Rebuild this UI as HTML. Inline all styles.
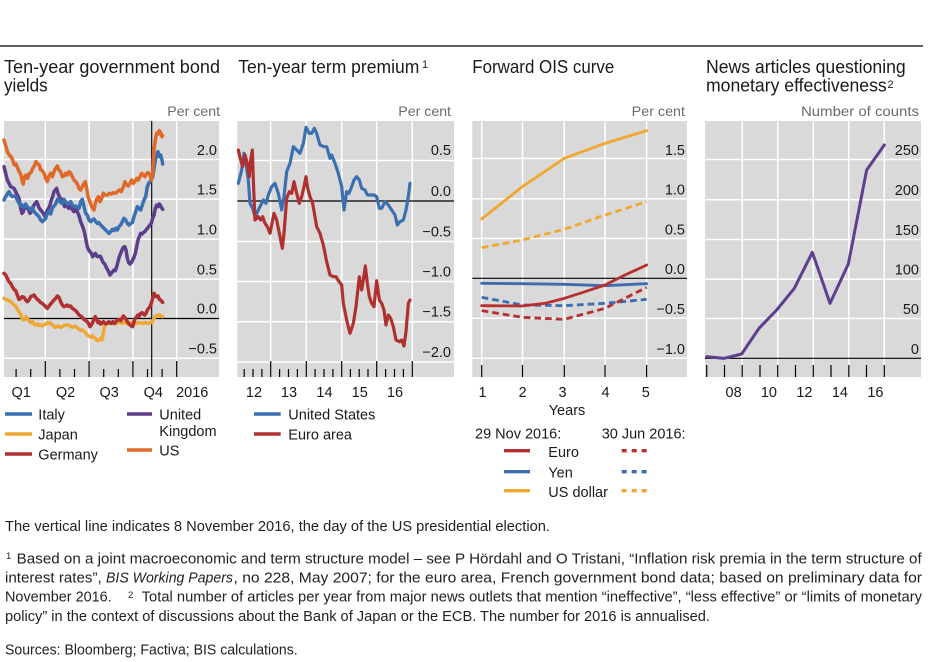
<!DOCTYPE html>
<html><head><meta charset="utf-8">
<style>
html,body{margin:0;padding:0;background:#fff;width:946px;height:662px;overflow:hidden}
svg{display:block}
text{font-family:"Liberation Sans",Arial,sans-serif;fill:#1a1a1a}
.t{font-size:18px}
.pc{font-size:14px;fill:#6b6b6b}
.tl{font-size:14.5px}
.lg{font-size:14.5px}
.fn{font-size:14.5px;fill:#222}
.g{stroke:#fff;stroke-width:1.5}
.z{stroke:#000;stroke-width:1.2}
.tk{stroke:#000;stroke-width:1.2}
.s{fill:none;stroke-linejoin:round;stroke-linecap:round}
</style></head><body>
<svg width="946" height="662" viewBox="0 0 946 662" xmlns="http://www.w3.org/2000/svg">
<line x1="0" y1="46" x2="923" y2="46" stroke="#000" stroke-width="1.3"/>

<!-- Titles -->
<text class="t" x="4" y="73" textLength="216" lengthAdjust="spacingAndGlyphs">Ten-year government bond</text>
<text class="t" x="4" y="91.5" textLength="43.7" lengthAdjust="spacingAndGlyphs">yields</text>
<text class="t" x="238.3" y="73" textLength="181" lengthAdjust="spacingAndGlyphs">Ten-year term premium</text>
<text x="422" y="68" style="font-size:11px">1</text>
<text class="t" x="472.3" y="73" textLength="142" lengthAdjust="spacingAndGlyphs">Forward OIS curve</text>
<text class="t" x="706" y="73" textLength="199.7" lengthAdjust="spacingAndGlyphs">News articles questioning</text>
<text class="t" x="706" y="91.5" textLength="180.7" lengthAdjust="spacingAndGlyphs">monetary effectiveness</text>
<text x="887.5" y="88" style="font-size:11px">2</text>

<text class="pc" x="167.3" y="116" textLength="52.7" lengthAdjust="spacingAndGlyphs">Per cent</text>
<text class="pc" x="398.3" y="116" textLength="52.7" lengthAdjust="spacingAndGlyphs">Per cent</text>
<text class="pc" x="631.7" y="116" textLength="53.3" lengthAdjust="spacingAndGlyphs">Per cent</text>
<text class="pc" x="801" y="116" textLength="118" lengthAdjust="spacingAndGlyphs">Number of counts</text>

<!-- ===== Panel 1 ===== -->
<rect x="4" y="121" width="215" height="256" fill="#d9d9d9"/>
<g class="g">
<line x1="4" y1="159.5" x2="219" y2="159.5"/><line x1="4" y1="199.3" x2="219" y2="199.3"/>
<line x1="4" y1="239.3" x2="219" y2="239.3"/><line x1="4" y1="279.3" x2="219" y2="279.3"/>
<line x1="4" y1="358.3" x2="219" y2="358.3"/>
<line x1="45.3" y1="121" x2="45.3" y2="377"/><line x1="89.1" y1="121" x2="89.1" y2="377"/>
<line x1="132.9" y1="121" x2="132.9" y2="377"/><line x1="176.7" y1="121" x2="176.7" y2="377"/>
</g>
<line class="z" x1="4" y1="318.5" x2="219" y2="318.5"/>
<line x1="151.7" y1="121" x2="151.7" y2="377" stroke="#000" stroke-width="1.1"/>
<g class="tk">
<line x1="45.3" y1="361" x2="45.3" y2="377"/><line x1="89.1" y1="361" x2="89.1" y2="377"/>
<line x1="132.9" y1="361" x2="132.9" y2="377"/><line x1="176.7" y1="361" x2="176.7" y2="377"/>
<line x1="16.1" y1="369" x2="16.1" y2="377"/><line x1="30.7" y1="369" x2="30.7" y2="377"/>
<line x1="59.9" y1="369" x2="59.9" y2="377"/><line x1="74.5" y1="369" x2="74.5" y2="377"/>
<line x1="103.7" y1="369" x2="103.7" y2="377"/><line x1="118.3" y1="369" x2="118.3" y2="377"/>
<line x1="147.5" y1="369" x2="147.5" y2="377"/><line x1="162.1" y1="369" x2="162.1" y2="377"/>
</g>
<g transform="translate(0,40) scale(0.33333)" class="s" stroke-width="10.5">
<polyline stroke="#efa735" points="12,775 17,778 22,780 27,782 32,785 37,790 42,795 47,798 52,808 57,815 62,822 66,835 70,840 74,838 78,830 82,835 86,842 90,845 94,848 98,845 102,852 106,855 110,855 114,852 118,856 122,855 126,858 130,856 134,853 138,852 142,848 146,850 150,848 154,852 158,855 162,860 166,862 170,860 174,858 178,860 182,862 186,860 190,858 194,856 198,855 202,854 206,856 210,858 214,860 218,862 222,860 226,858 230,862 234,866 238,868 242,872 246,870 250,872 254,876 258,880 262,885 266,888 270,890 274,892 278,888 282,892 286,896 290,900 294,902 298,898 302,895 306,900 310,880 314,855 318,850 322,852 326,850 330,848 334,852 338,850 342,848 346,852 350,850 354,846 358,845 362,848 366,850 370,847 374,846 378,850 382,852 386,848 390,850 394,848 398,846 402,848 406,850 410,850 414,848 418,850 422,848 426,850 430,850 434,848 438,848 442,850 446,850 450,848 454,848 458,843 462,835 466,830 470,826 474,826 478,824 482,828 486,830 488,830"/>
<polyline stroke="#b0302f" points="12,700 17,705 22,715 27,725 32,730 37,740 42,748 47,752 52,765 57,778 62,775 67,770 72,772 77,780 82,785 87,780 92,770 97,768 102,765 107,772 112,778 117,782 122,788 127,790 132,795 137,800 142,805 147,798 152,792 157,786 162,780 167,775 172,768 177,772 182,785 187,795 192,800 197,798 202,795 207,800 212,798 217,805 222,808 227,812 232,818 237,825 242,828 247,832 252,838 257,842 262,845 266,852 270,860 274,855 278,848 282,835 286,830 290,840 294,848 298,845 302,852 306,850 310,845 314,848 318,852 322,850 326,845 330,848 334,850 338,845 342,850 346,848 350,842 354,838 358,840 362,842 366,835 370,828 374,832 378,838 382,845 386,850 390,855 394,858 398,860 402,845 406,835 410,830 414,825 418,828 422,820 426,818 430,822 434,825 438,820 442,810 446,805 450,800 454,790 458,775 462,760 466,768 470,770 474,768 478,778 482,780 486,785 488,787"/>
<polyline stroke="#5c3d8c" points="12,380 17,400 22,420 27,430 32,440 37,442 42,445 47,455 52,465 57,475 62,505 66,520 70,515 74,498 78,495 82,505 86,510 90,520 94,515 98,505 102,495 106,490 110,485 114,495 118,505 122,510 126,515 130,520 134,528 138,522 142,510 146,505 150,495 154,480 158,470 162,455 166,450 170,445 174,460 178,470 182,475 186,480 190,490 194,500 198,495 202,498 206,505 210,500 214,505 218,510 222,515 226,505 230,510 234,520 238,530 242,545 246,555 250,565 254,580 258,600 262,620 266,630 270,635 274,640 278,650 282,645 286,640 290,648 294,650 298,648 302,650 306,660 310,668 314,672 318,680 322,688 326,695 330,705 334,700 338,695 342,690 346,692 350,680 354,665 358,650 362,640 366,630 370,622 374,620 378,630 382,655 386,668 390,672 394,668 398,660 402,652 406,640 410,620 414,600 418,590 422,580 426,582 430,578 434,575 438,570 442,565 446,560 450,555 454,550 458,535 462,525 466,505 470,495 474,500 478,492 482,498 486,505 488,508"/>
<polyline stroke="#3a6fb0" points="12,480 17,470 22,462 27,455 32,465 37,470 42,468 47,470 52,480 57,490 62,498 67,495 72,502 77,492 82,500 87,505 92,510 97,502 102,515 107,520 112,525 117,530 122,540 127,545 132,540 137,535 142,520 147,515 152,522 157,505 162,498 167,492 172,478 177,480 182,488 187,490 192,478 197,485 202,492 207,490 212,485 217,495 222,500 227,498 232,502 237,505 242,485 247,478 252,500 257,520 262,525 267,540 272,545 277,540 282,537 287,545 292,550 297,548 302,555 307,560 312,565 317,570 322,575 327,580 332,575 337,568 342,572 347,565 352,570 357,560 362,555 367,545 372,535 377,540 382,550 387,555 392,550 397,548 402,530 407,515 412,500 417,505 422,510 427,495 432,480 437,470 442,440 446,430 450,425 454,420 458,410 462,385 466,360 470,345 474,335 478,350 482,345 486,360 488,372"/>
<polyline stroke="#e0692a" points="12,300 18,320 22,335 28,345 33,350 38,360 43,375 48,372 53,385 58,395 63,405 67,425 70,432 74,410 78,405 83,415 88,400 93,398 98,385 103,378 108,365 113,372 118,375 122,390 127,392 132,400 137,415 142,425 147,408 152,400 157,410 162,395 167,385 172,378 177,390 182,395 187,410 192,408 197,400 202,405 207,395 212,400 217,410 222,420 227,425 232,432 237,445 242,450 247,440 252,430 256,425 260,445 264,470 268,480 273,495 278,505 282,510 286,490 290,478 295,470 300,485 305,475 310,460 316,465 322,465 328,460 334,462 340,458 346,460 352,455 358,450 364,455 370,440 375,425 380,435 385,438 390,430 395,420 400,430 405,425 410,415 415,420 420,410 425,400 430,405 435,410 440,400 445,398 450,405 454,420 458,400 462,330 466,300 470,280 474,282 478,272 482,278 486,290 488,287"/>
</g>
<g class="tl" text-anchor="end">
<text x="217" y="155">2.0</text><text x="217" y="194.5">1.5</text><text x="217" y="234.5">1.0</text>
<text x="217" y="274.5">0.5</text><text x="217" y="313.5">0.0</text><text x="217" y="353.5">−0.5</text>
</g>
<g class="tl" text-anchor="middle">
<text x="21.2" y="397">Q1</text><text x="65.5" y="397">Q2</text><text x="109.2" y="397">Q3</text>
<text x="153.3" y="397">Q4</text><text x="192.2" y="397">2016</text>
</g>
<g stroke-width="3.4">
<line x1="5" y1="414" x2="32" y2="414" stroke="#3a6fb0"/>
<line x1="5" y1="434" x2="32" y2="434" stroke="#efa735"/>
<line x1="5" y1="454" x2="32" y2="454" stroke="#b0302f"/>
<line x1="127" y1="414" x2="152" y2="414" stroke="#5c3d8c"/>
<line x1="127" y1="450" x2="152" y2="450" stroke="#e0692a"/>
</g>
<g class="lg">
<text x="38.3" y="419.5">Italy</text><text x="38.3" y="439.5">Japan</text><text x="38.3" y="459.5">Germany</text>
<text x="159.3" y="419.5">United</text><text x="159.3" y="436">Kingdom</text><text x="159.3" y="455.5">US</text>
</g>

<!-- ===== Panel 2 ===== -->
<rect x="237.3" y="121" width="216.7" height="256" fill="#d9d9d9"/>
<g class="g">
<line x1="237.3" y1="160.5" x2="454" y2="160.5"/><line x1="237.3" y1="241.5" x2="454" y2="241.5"/>
<line x1="237.3" y1="281.5" x2="454" y2="281.5"/><line x1="237.3" y1="321.8" x2="454" y2="321.8"/>
<line x1="237.3" y1="362" x2="454" y2="362"/>
<line x1="270.7" y1="121" x2="270.7" y2="377"/><line x1="306.3" y1="121" x2="306.3" y2="377"/>
<line x1="341.7" y1="121" x2="341.7" y2="377"/><line x1="376.7" y1="121" x2="376.7" y2="377"/>
<line x1="412.3" y1="121" x2="412.3" y2="377"/>
</g>
<line class="z" x1="237.3" y1="201" x2="454" y2="201"/>
<g class="tk">
<line x1="270.7" y1="361" x2="270.7" y2="377"/><line x1="306.3" y1="361" x2="306.3" y2="377"/>
<line x1="341.7" y1="361" x2="341.7" y2="377"/><line x1="376.7" y1="361" x2="376.7" y2="377"/>
<line x1="412.3" y1="361" x2="412.3" y2="377"/>
<line x1="244.2" y1="369" x2="244.2" y2="377"/><line x1="253" y1="369" x2="253" y2="377"/><line x1="261.9" y1="369" x2="261.9" y2="377"/>
<line x1="279.6" y1="369" x2="279.6" y2="377"/><line x1="288.5" y1="369" x2="288.5" y2="377"/><line x1="297.4" y1="369" x2="297.4" y2="377"/>
<line x1="315.1" y1="369" x2="315.1" y2="377"/><line x1="324" y1="369" x2="324" y2="377"/><line x1="332.9" y1="369" x2="332.9" y2="377"/>
<line x1="350.4" y1="369" x2="350.4" y2="377"/><line x1="359.2" y1="369" x2="359.2" y2="377"/><line x1="368" y1="369" x2="368" y2="377"/>
<line x1="385.6" y1="369" x2="385.6" y2="377"/><line x1="394.5" y1="369" x2="394.5" y2="377"/><line x1="403.4" y1="369" x2="403.4" y2="377"/>
</g>
<g transform="translate(230,40) scale(0.33333)" class="s" stroke-width="9.5">
<polyline stroke="#3a6fb0" points="25,430 35,390 42,340 48,370 55,420 60,490 68,505 75,530 80,520 90,500 100,480 108,490 115,465 125,440 135,430 145,460 155,510 162,470 170,395 180,370 190,320 200,330 210,340 220,310 228,262 238,280 245,280 253,265 260,280 270,315 282,320 290,320 300,355 305,345 315,370 325,400 335,440 342,510 350,455 357,460 365,440 372,420 380,410 388,420 395,445 405,450 412,465 420,465 432,465 440,470 448,505 455,505 465,485 475,495 485,510 495,525 502,555 510,545 520,540 528,510 535,470 540,430"/>
<polyline stroke="#b0302f" points="25,330 32,360 38,380 45,345 52,370 58,410 62,360 67,330 70,420 75,540 80,535 85,530 92,540 98,530 105,550 112,560 120,580 125,555 132,520 140,540 148,580 157,625 162,580 170,475 178,455 185,460 192,425 200,460 208,490 215,470 222,440 228,410 233,445 240,470 248,490 260,560 270,580 280,615 290,665 300,705 310,710 318,710 325,722 335,735 340,790 350,840 360,880 370,850 378,800 388,710 395,750 400,720 406,678 412,730 418,770 425,790 432,800 440,722 448,780 455,790 462,810 468,855 475,825 482,835 490,860 498,900 508,905 515,900 522,918 528,875 535,790 540,780"/>
</g>
<g class="tl" text-anchor="end">
<text x="451" y="155">0.5</text><text x="451" y="196">0.0</text><text x="451" y="236.5">−0.5</text>
<text x="451" y="276.5">−1.0</text><text x="451" y="316.5">−1.5</text><text x="451" y="357">−2.0</text>
</g>
<g class="tl" text-anchor="middle">
<text x="254" y="397">12</text><text x="289" y="397">13</text><text x="324.5" y="397">14</text>
<text x="359.7" y="397">15</text><text x="395" y="397">16</text>
</g>
<line x1="254" y1="414" x2="280.7" y2="414" stroke="#3a6fb0" stroke-width="3.4"/>
<line x1="254" y1="434" x2="280.7" y2="434" stroke="#b0302f" stroke-width="3.4"/>
<text class="lg" x="288.3" y="419.5">United States</text>
<text class="lg" x="288.3" y="439.5">Euro area</text>

<!-- ===== Panel 3 ===== -->
<rect x="472.3" y="121" width="214.7" height="256" fill="#d9d9d9"/>
<g class="g">
<line x1="472.3" y1="158.5" x2="687" y2="158.5"/><line x1="472.3" y1="198.8" x2="687" y2="198.8"/>
<line x1="472.3" y1="238.5" x2="687" y2="238.5"/><line x1="472.3" y1="318.3" x2="687" y2="318.3"/>
<line x1="472.3" y1="358.3" x2="687" y2="358.3"/>
<line x1="481.7" y1="121" x2="481.7" y2="377"/><line x1="522.5" y1="121" x2="522.5" y2="377"/>
<line x1="564.3" y1="121" x2="564.3" y2="377"/><line x1="605" y1="121" x2="605" y2="377"/>
<line x1="646.6" y1="121" x2="646.6" y2="377"/>
</g>
<line class="z" x1="472.3" y1="278.3" x2="687" y2="278.3"/>
<g class="tk">
<line x1="481.7" y1="365" x2="481.7" y2="377"/><line x1="522.5" y1="365" x2="522.5" y2="377"/>
<line x1="564.3" y1="365" x2="564.3" y2="377"/><line x1="605" y1="365" x2="605" y2="377"/>
<line x1="646.6" y1="365" x2="646.6" y2="377"/>
</g>
<g transform="translate(465,40) scale(0.33333)" class="s" stroke-width="8.5">
<polyline stroke="#f0a830" points="50,537 172,440 298,355 420,310 545,272"/>
<polyline stroke="#f0a830" stroke-dasharray="20 12" stroke-linecap="butt" points="50,623 172,600 298,568 420,525 545,485"/>
<polyline stroke="#3d6db0" points="50,730 172,731 298,733 420,737 545,731"/>
<polyline stroke="#3d6db0" stroke-dasharray="20 12" stroke-linecap="butt" points="50,772 172,795 298,797 420,790 545,778"/>
<polyline stroke="#b5302f" stroke-dasharray="20 12" stroke-linecap="butt" points="50,812 172,832 298,838 420,805 545,742"/>
<polyline stroke="#b5302f" points="50,797 172,798 240,790 298,775 360,755 420,735 480,705 545,675"/>
</g>
<g class="tl" text-anchor="end">
<text x="685" y="155">1.5</text><text x="685" y="194.5">1.0</text><text x="685" y="234.5">0.5</text>
<text x="685" y="274">0.0</text><text x="685" y="314">−0.5</text><text x="685" y="354">−1.0</text>
</g>
<g class="tl" text-anchor="middle">
<text x="482.5" y="397">1</text><text x="522.7" y="397">2</text><text x="562.5" y="397">3</text>
<text x="605.5" y="397">4</text><text x="645.8" y="397">5</text>
<text x="567" y="415">Years</text>
</g>
<text class="lg" x="475" y="438.3">29 Nov 2016:</text>
<text class="lg" x="601.7" y="438.3">30 Jun 2016:</text>
<g stroke-width="3.4">
<line x1="504" y1="450.7" x2="530" y2="450.7" stroke="#b5302f"/>
<line x1="504" y1="471.7" x2="530" y2="471.7" stroke="#3d6db0"/>
<line x1="504" y1="490.7" x2="530" y2="490.7" stroke="#f0a830"/>
<line x1="621.7" y1="450.7" x2="649" y2="450.7" stroke="#b5302f" stroke-dasharray="5 5"/>
<line x1="621.7" y1="471.7" x2="649" y2="471.7" stroke="#3d6db0" stroke-dasharray="5 5"/>
<line x1="621.7" y1="490.7" x2="649" y2="490.7" stroke="#f0a830" stroke-dasharray="5 5"/>
</g>
<text class="lg" x="548.3" y="457">Euro</text>
<text class="lg" x="548.3" y="477.5">Yen</text>
<text class="lg" x="548.3" y="497">US dollar</text>

<!-- ===== Panel 4 ===== -->
<rect x="705" y="121" width="216" height="256" fill="#d9d9d9"/>
<g class="g">
<line x1="705" y1="159.5" x2="921" y2="159.5"/><line x1="705" y1="199.8" x2="921" y2="199.8"/>
<line x1="705" y1="239.5" x2="921" y2="239.5"/><line x1="705" y1="279.3" x2="921" y2="279.3"/>
<line x1="705" y1="318.5" x2="921" y2="318.5"/>
<line x1="742.2" y1="121" x2="742.2" y2="377"/><line x1="777.7" y1="121" x2="777.7" y2="377"/>
<line x1="813.3" y1="121" x2="813.3" y2="377"/><line x1="848.8" y1="121" x2="848.8" y2="377"/>
<line x1="884.3" y1="121" x2="884.3" y2="377"/>
</g>
<line class="z" x1="705" y1="358.3" x2="921" y2="358.3"/>
<g class="tk">
<line x1="706.7" y1="365" x2="706.7" y2="377"/><line x1="724.5" y1="365" x2="724.5" y2="377"/>
<line x1="742.2" y1="365" x2="742.2" y2="377"/><line x1="760" y1="365" x2="760" y2="377"/>
<line x1="777.7" y1="365" x2="777.7" y2="377"/><line x1="795.5" y1="365" x2="795.5" y2="377"/>
<line x1="813.3" y1="365" x2="813.3" y2="377"/><line x1="831" y1="365" x2="831" y2="377"/>
<line x1="848.8" y1="365" x2="848.8" y2="377"/><line x1="866.5" y1="365" x2="866.5" y2="377"/>
<line x1="884.3" y1="365" x2="884.3" y2="377"/>
</g>
<g transform="translate(695,40) scale(0.33333)" class="s" stroke-width="9">
<polyline stroke="#5e3f8f" points="35,950 87,955 140,942 192,865 245,810 298,745 352,637 405,790 460,672 515,390 568,315"/>
</g>
<g class="tl" text-anchor="end">
<text x="919" y="155">250</text><text x="919" y="195">200</text><text x="919" y="235">150</text>
<text x="919" y="274.5">100</text><text x="919" y="314">50</text><text x="919" y="354">0</text>
</g>
<g class="tl" text-anchor="middle">
<text x="733.6" y="397">08</text><text x="768.9" y="397">10</text><text x="804.4" y="397">12</text>
<text x="839.9" y="397">14</text><text x="875.4" y="397">16</text>
</g>

<!-- ===== Footnotes ===== -->
<text class="fn" x="5" y="531" textLength="545" lengthAdjust="spacingAndGlyphs">The vertical line indicates 8 November 2016, the day of the US presidential election.</text>
<text x="6" y="559" style="font-size:9.5px;fill:#222">1</text>
<text class="fn" x="16.7" y="563.3" textLength="905" lengthAdjust="spacingAndGlyphs">Based on a joint macroeconomic and term structure model – see P Hördahl and O Tristani, “Inflation risk premia in the term structure of</text>
<text class="fn" x="5" y="582.5" textLength="96.7" lengthAdjust="spacingAndGlyphs">interest rates”,</text>
<text class="fn" x="106" y="582.5" textLength="127" lengthAdjust="spacingAndGlyphs" font-style="italic">BIS Working Papers</text>
<text class="fn" x="233.5" y="582.5" textLength="688.5" lengthAdjust="spacingAndGlyphs">, no 228, May 2007; for the euro area, French government bond data; based on preliminary data for</text>
<text class="fn" x="5" y="601.7" textLength="106.7" lengthAdjust="spacingAndGlyphs">November 2016.</text>
<text x="128" y="598" style="font-size:9.5px;fill:#222">2</text>
<text class="fn" x="141.7" y="601.7" textLength="780.3" lengthAdjust="spacingAndGlyphs">Total number of articles per year from major news outlets that mention “ineffective”, “less effective” or “limits of monetary</text>
<text class="fn" x="5" y="621" textLength="705" lengthAdjust="spacingAndGlyphs">policy” in the context of discussions about the Bank of Japan or the ECB. The number for 2016 is annualised.</text>
<text class="fn" x="5" y="654.3" textLength="292.7" lengthAdjust="spacingAndGlyphs">Sources: Bloomberg; Factiva; BIS calculations.</text>
</svg>
</body></html>
